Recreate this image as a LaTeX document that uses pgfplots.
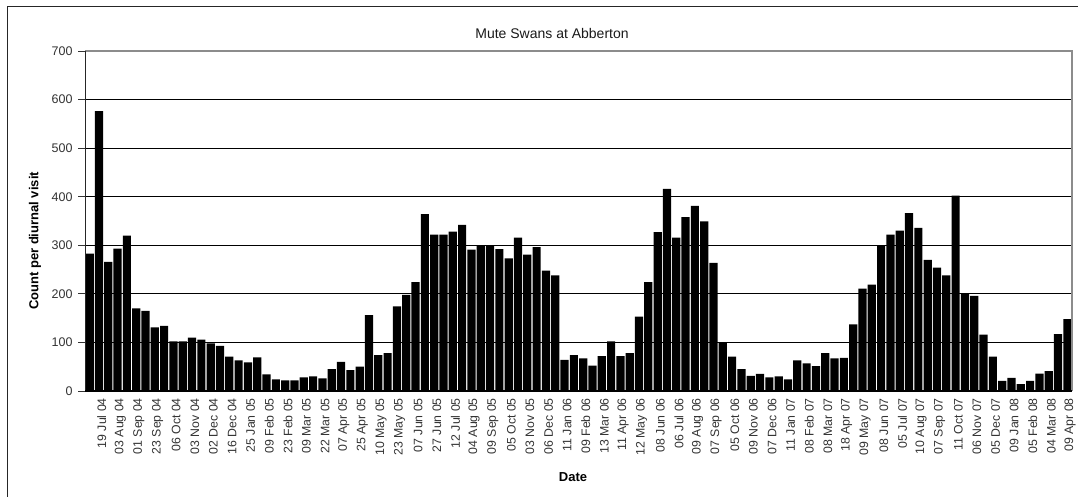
\documentclass[border=0pt]{standalone}
\usepackage{pgfplots}
\pgfplotsset{compat=1.18}
\usepackage{fontspec}
\setmainfont{Liberation Sans}
\begin{document}
\begin{tikzpicture}
\useasboundingbox (0,0) rectangle (1078pt,497pt);
\draw[black!85, line width=1pt] (7pt,0pt) -- (7pt,490pt) -- (1078pt,490pt);
\begin{axis}[
  at={(85pt,106pt)}, anchor=south west,
  scale only axis, width=987pt, height=340pt,
  xmin=-0.5, xmax=105.5, ymin=0, ymax=700,
  ytick={0,100,...,700},
  ymajorgrids, grid style={black, line width=0.9pt},
  axis line style={draw=none},
  xtick pos=bottom, ytick pos=left,
  tick align=outside,
  major tick length=7pt,
  minor tick length=6pt,
  xtick={0,2,...,104},
  xticklabels={19 Jul 04,03 Aug 04,01 Sep 04,23 Sep 04,06 Oct 04,03 Nov 04,02 Dec 04,16 Dec 04,25 Jan 05,09 Feb 05,23 Feb 05,09 Mar 05,22 Mar 05,07 Apr 05,25 Apr 05,10 May 05,23 May 05,07 Jun 05,27 Jun 05,12 Jul 05,04 Aug 05,09 Sep 05,05 Oct 05,03 Nov 05,06 Dec 05,11 Jan 06,09 Feb 06,13 Mar 06,11 Apr 06,12 May 06,08 Jun 06,06 Jul 06,09 Aug 06,07 Sep 06,05 Oct 06,09 Nov 06,07 Dec 06,11 Jan 07,08 Feb 07,08 Mar 07,18 Apr 07,09 May 07,08 Jun 07,05 Jul 07,10 Aug 07,07 Sep 07,11 Oct 07,06 Nov 07,05 Dec 07,09 Jan 08,05 Feb 08,04 Mar 08,09 Apr 08},
  minor xtick={-0.5,0.5,...,105.5},
  xtick style={draw=none},
  minor x tick style={black!80, line width=0.8pt},
  ytick style={black!80, line width=0.8pt},
  xticklabel style={rotate=90, anchor=east, font=\fontsize{12.3}{12}\selectfont, text=black!80, inner sep=0pt, yshift=-12pt},
  yticklabel style={font=\fontsize{12.5}{12}\selectfont, text=black!80, xshift=-2pt},
  /pgf/number format/assume math mode=true,
  clip=false,
]
\addplot[ybar, bar width=0.88, bar shift=0pt, fill=black, draw=none] coordinates {
(0,283) (1,576) (2,266) (3,293) (4,320) (5,170) (6,165) (7,131) (8,134) (9,102)
(10,102) (11,110) (12,106) (13,98) (14,93) (15,71) (16,63) (17,59) (18,69) (19,34)
(20,24) (21,22) (22,22) (23,28) (24,30) (25,26) (26,45) (27,60) (28,43) (29,50)
(30,156) (31,74) (32,78) (33,174) (34,198) (35,224) (36,364) (37,322) (38,322) (39,328)
(40,342) (41,291) (42,300) (43,299) (44,292) (45,273) (46,316) (47,281) (48,296) (49,248)
(50,238) (51,64) (52,74) (53,67) (54,52) (55,72) (56,102) (57,72) (58,78) (59,153)
(60,224) (61,327) (62,416) (63,316) (64,358) (65,381) (66,349) (67,264) (68,100) (69,71)
(70,45) (71,31) (72,35) (73,28) (74,30) (75,24) (76,63) (77,57) (78,51) (79,78)
(80,67) (81,68) (82,137) (83,211) (84,219) (85,300) (86,322) (87,330) (88,366) (89,336)
(90,270) (91,254) (92,238) (93,402) (94,201) (95,196) (96,116) (97,71) (98,21) (99,27)
(100,14) (101,21) (102,36) (103,41) (104,117) (105,148)
};
\draw[black!45, line width=1.2pt] (axis cs:-0.5,700) -- (axis cs:105.5,700) -- (axis cs:105.5,0);
\draw[black!85, line width=1pt] (axis cs:-0.5,0) -- (axis cs:-0.5,700);
\draw[black, line width=1pt] (axis cs:-0.5,0) -- (axis cs:105.5,0);
\end{axis}
\node[font=\fontsize{14}{14}\selectfont, text=black!90] at (552pt,463pt) {Mute Swans at Abberton};
\node[font=\bfseries\fontsize{13}{12}\selectfont, rotate=90] at (35pt,256pt) {Count per diurnal visit};
\node[font=\bfseries\fontsize{13}{13}\selectfont] at (573pt,20pt) {Date};
\end{tikzpicture}
\end{document}
